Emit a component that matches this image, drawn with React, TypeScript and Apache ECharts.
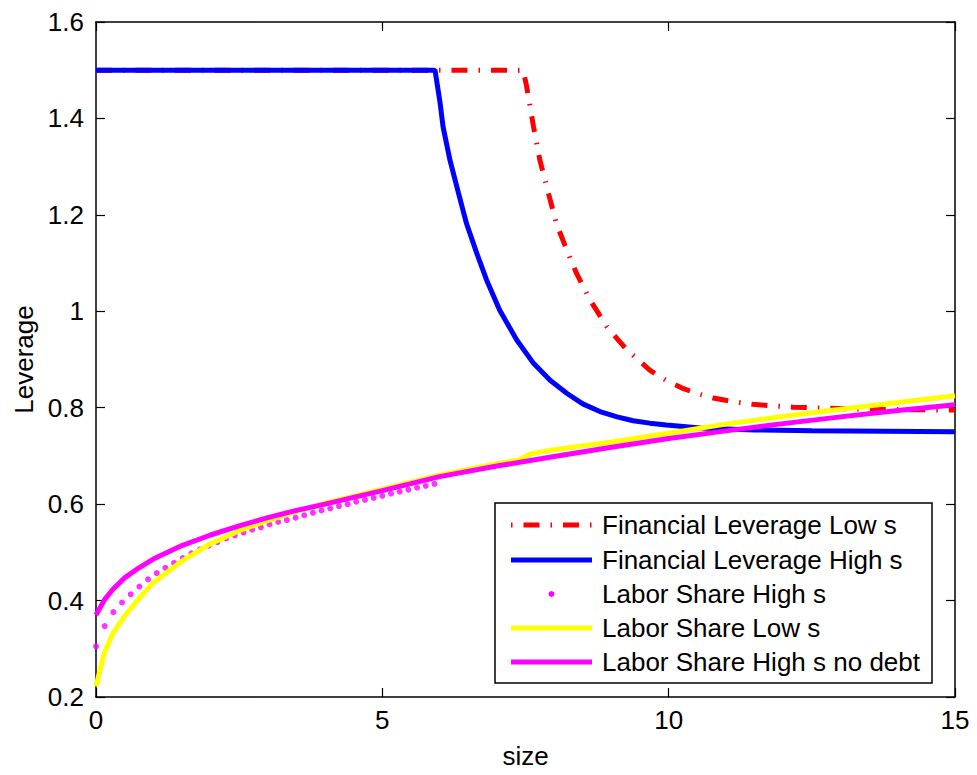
import React, { useEffect, useRef } from "react";
import * as echarts from "echarts";

// ---------- data ----------
const finLowX = [0, 7.46, 7.52, 7.64, 7.75, 7.9, 8.04, 8.22, 8.39, 8.63, 8.92, 9.27, 9.67, 9.95, 10.25, 10.5, 10.78, 11.1, 11.47, 11.8, 12.17, 13.4, 15];
const finLowY = [1.5, 1.5, 1.466, 1.383, 1.314, 1.245, 1.182, 1.127, 1.079, 1.023, 0.968, 0.92, 0.878, 0.857, 0.84, 0.829, 0.82, 0.813, 0.807, 0.804, 0.801, 0.797, 0.795];

const finHighX = [0, 5.92, 6.01, 6.06, 6.18, 6.33, 6.47, 6.65, 6.82, 7.05, 7.35, 7.64, 7.93, 8.22, 8.5, 8.8, 9.1, 9.38, 9.67, 9.96, 10.55, 11.5, 12.5, 15];
const finHighY = [1.5, 1.5, 1.431, 1.383, 1.314, 1.245, 1.182, 1.12, 1.065, 1.002, 0.94, 0.892, 0.857, 0.83, 0.808, 0.792, 0.781, 0.773, 0.768, 0.764, 0.758, 0.754, 0.752, 0.75];

const laborHighX = [0, 0.152, 0.303, 0.455, 0.606, 0.758, 0.909, 1.061, 1.212, 1.364, 1.515, 1.667, 1.818, 1.97, 2.121, 2.273, 2.424, 2.576, 2.727, 2.879, 3.03, 3.182, 3.333, 3.485, 3.636, 3.788, 3.939, 4.091, 4.242, 4.394, 4.545, 4.697, 4.848, 5.0, 5.152, 5.303, 5.455, 5.606, 5.758, 5.909];
const laborHighY = [0.305, 0.347, 0.376, 0.396, 0.413, 0.429, 0.444, 0.457, 0.468, 0.478, 0.488, 0.498, 0.506, 0.514, 0.521, 0.529, 0.535, 0.541, 0.547, 0.552, 0.558, 0.563, 0.567, 0.572, 0.577, 0.582, 0.587, 0.591, 0.596, 0.6, 0.605, 0.609, 0.613, 0.617, 0.622, 0.626, 0.63, 0.634, 0.638, 0.642];

const laborLowX = [0, 0.15, 0.3, 0.5, 0.75, 1, 1.5, 2, 2.5, 3, 3.5, 4, 5, 6, 7, 7.4, 7.58, 8, 9, 10, 11, 12, 13, 14, 15];
const laborLowY = [0.222, 0.293, 0.333, 0.368, 0.404, 0.437, 0.482, 0.518, 0.545, 0.566, 0.585, 0.602, 0.631, 0.66, 0.684, 0.692, 0.704, 0.713, 0.729, 0.747, 0.766, 0.782, 0.797, 0.811, 0.825];

const laborNoDebtX = [0, 0.15, 0.3, 0.5, 0.75, 1, 1.5, 2, 2.5, 3, 3.5, 4, 5, 6, 7, 8, 9, 10, 11, 12, 13, 14, 15];
const laborNoDebtY = [0.37, 0.402, 0.424, 0.447, 0.468, 0.486, 0.514, 0.536, 0.555, 0.572, 0.587, 0.6, 0.628, 0.657, 0.679, 0.699, 0.718, 0.736, 0.752, 0.767, 0.781, 0.794, 0.806];

const seriesNames = [
  "Financial Leverage Low s",
  "Financial Leverage High s",
  "Labor Share High s",
  "Labor Share Low s",
  "Labor Share High s no debt",
];
const xTicks = { min: 0, max: 15, interval: 5 };
const yTicks = { min: 0.2, max: 1.6, interval: 0.2 };

const pairs = (xs: number[], ys: number[]) => xs.map((x, i) => [x, ys[i]]);

const FONT = "'Liberation Sans', Arial, Helvetica, sans-serif";
const RED = "#ff0000";
const BLUE = "#0000ff";
const MAGENTA = "#ff00ff";
const YELLOW = "#ffff00";
const DASHDOT = [16, 11, 1.5, 11];

export default function App() {
  const ref = useRef<HTMLDivElement>(null);
  useEffect(() => {
    if (!ref.current) return;
    const chart = echarts.init(ref.current, undefined, { renderer: "svg" });
    const grid = { left: 96, top: 22, width: 859, height: 675 };
    const axisLine = { show: true, onZero: false, lineStyle: { color: "#000", width: 1.5 } };
    const tick = { show: true, inside: true, length: 9, lineStyle: { color: "#000", width: 1.2 } };
    const label = { color: "#000", fontSize: 26, fontFamily: FONT };

    // legend drawn as graphic
    const lx0 = 511, lx1 = 592, tx = 602;
    const rows = [525, 560, 594, 628, 662];
    const legendChildren: any[] = [
      { type: "rect", shape: { x: 495, y: 503, width: 437, height: 180 }, style: { fill: "#fff", stroke: "#000", lineWidth: 1.5 } },
      { type: "line", shape: { x1: lx0, y1: rows[0], x2: lx1, y2: rows[0] }, style: { stroke: RED, lineWidth: 5, lineDash: [1.5, 11, 16, 11] } },
      { type: "line", shape: { x1: lx0, y1: rows[1], x2: lx1, y2: rows[1] }, style: { stroke: BLUE, lineWidth: 5 } },
      { type: "circle", shape: { cx: (lx0 + lx1) / 2, cy: rows[2], r: 3 }, style: { fill: MAGENTA } },
      { type: "line", shape: { x1: lx0, y1: rows[3], x2: lx1, y2: rows[3] }, style: { stroke: YELLOW, lineWidth: 5 } },
      { type: "line", shape: { x1: lx0, y1: rows[4], x2: lx1, y2: rows[4] }, style: { stroke: MAGENTA, lineWidth: 5 } },
    ];
    seriesNames.forEach((n, i) => {
      legendChildren.push({
        type: "text",
        style: { text: n, x: tx, y: rows[i], fontSize: 26, fontFamily: FONT, fill: "#000", verticalAlign: "middle", align: "left" },
      });
    });

    chart.setOption({
      animation: false,
      backgroundColor: "#fff",
      grid,
      xAxis: [
        {
          type: "value", ...xTicks, position: "bottom",
          name: "size", nameLocation: "middle", nameGap: 46,
          nameTextStyle: { color: "#000", fontSize: 26, fontFamily: FONT },
          axisLine, axisTick: tick, axisLabel: { ...label, margin: 10 }, splitLine: { show: false },
        },
        {
          type: "value", ...xTicks, position: "top",
          axisLine, axisTick: tick, axisLabel: { show: false }, splitLine: { show: false },
        },
      ],
      yAxis: [
        {
          type: "value", ...yTicks, position: "left",
          name: "Leverage", nameLocation: "middle", nameGap: 58,
          nameTextStyle: { color: "#000", fontSize: 26, fontFamily: FONT },
          axisLine, axisTick: tick,
          axisLabel: { ...label, margin: 12, formatter: (v: number) => String(+v.toFixed(1)) },
          splitLine: { show: false },
        },
        {
          type: "value", ...yTicks, position: "right",
          axisLine, axisTick: tick, axisLabel: { show: false }, splitLine: { show: false },
        },
      ],
      series: [
        {
          name: seriesNames[0], type: "line", data: pairs(finLowX, finLowY), showSymbol: false, symbol: "none",
          lineStyle: { color: RED, width: 5, type: DASHDOT, cap: "butt" }, z: 2,
        },
        {
          name: seriesNames[1], type: "line", data: pairs(finHighX, finHighY), showSymbol: false, symbol: "none",
          lineStyle: { color: BLUE, width: 5 }, z: 3,
        },
        {
          name: seriesNames[2], type: "scatter", data: pairs(laborHighX, laborHighY), symbol: "circle", symbolSize: 6,
          itemStyle: { color: MAGENTA }, z: 4,
        },
        {
          name: seriesNames[3], type: "line", data: pairs(laborLowX, laborLowY), showSymbol: false, symbol: "none",
          lineStyle: { color: YELLOW, width: 5 }, z: 5,
        },
        {
          name: seriesNames[4], type: "line", data: pairs(laborNoDebtX, laborNoDebtY), showSymbol: false, symbol: "none",
          lineStyle: { color: MAGENTA, width: 5 }, z: 6,
        },
      ],
      graphic: [{ type: "group", z: 100, children: legendChildren }],
    });
    return () => chart.dispose();
  }, []);
  return (
    <div
      ref={ref}
      style={{ position: "absolute", left: 0, top: 0, width: 977, height: 775, background: "#fff" }}
    />
  );
}
